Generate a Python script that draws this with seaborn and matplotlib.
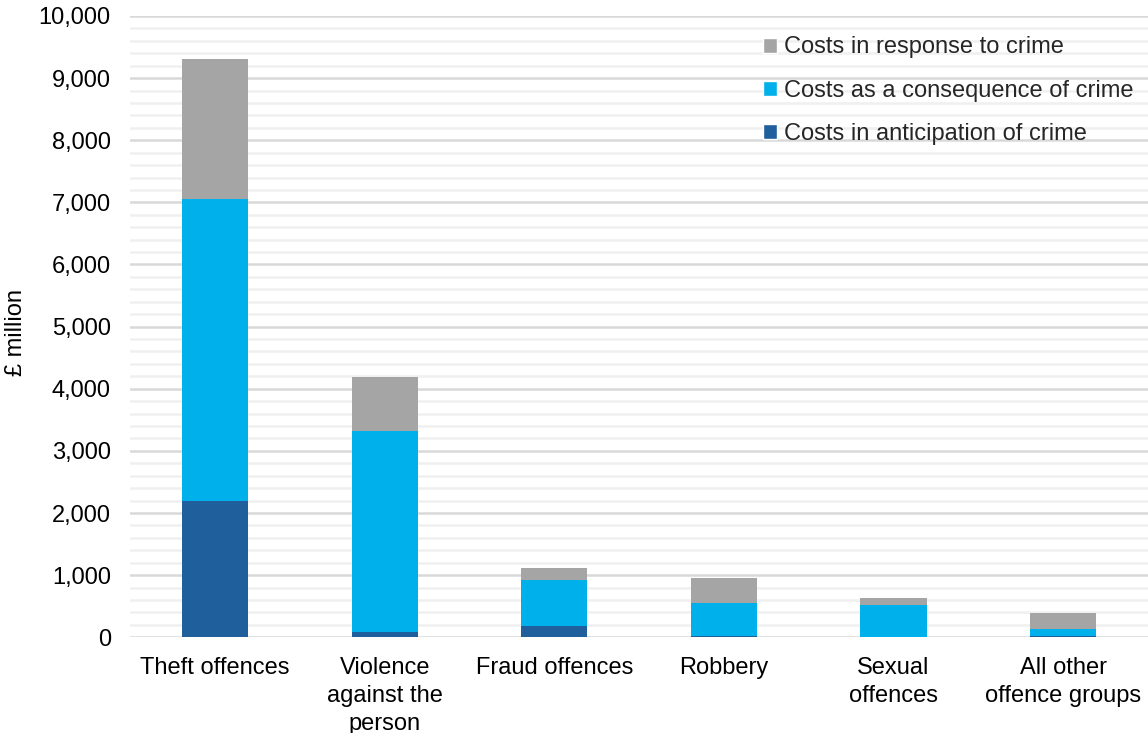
import matplotlib
matplotlib.use("Agg")
import matplotlib.pyplot as plt
import seaborn as sns
import pandas as pd
import numpy as np
from matplotlib.patches import Patch
from matplotlib.ticker import FuncFormatter, MultipleLocator

categories = ["Theft offences", "Violence\nagainst the\nperson", "Fraud offences",
              "Robbery", "Sexual\noffences", "All other\noffence groups"]
anticipation = [2190, 85, 187, 15, 5, 15]
consequence = [4865, 3240, 730, 540, 510, 115]
response = [2255, 870, 198, 400, 118, 257]

series_names = ["Costs in anticipation of crime", "Costs as a consequence of crime",
                "Costs in response to crime"]
colors = ["#1F5F9B", "#00B0EA", "#A5A5A5"]

sns.set_theme(style="white")
plt.rcParams["font.family"] = ["Liberation Sans", "DejaVu Sans"]

df = pd.DataFrame({"category": categories, "a": anticipation,
                   "c": consequence, "r": response})
df["ac"] = df["a"] + df["c"]
df["acr"] = df["ac"] + df["r"]

fig = plt.figure(figsize=(11.48, 7.33), dpi=100)
ax = fig.add_axes([0.1135, 0.1306, 0.8865, 0.8476])

for col, color in zip(["acr", "ac", "a"], [colors[2], colors[1], colors[0]]):
    sns.barplot(data=df, x="category", y=col, color=color, width=0.39,
                saturation=1, ax=ax, zorder=3, linewidth=0)

ax.set_ylim(0, 10000)
ax.set_xlim(-0.5, 5.5)
ax.yaxis.set_major_locator(MultipleLocator(1000))
ax.yaxis.set_minor_locator(MultipleLocator(200))
ax.yaxis.set_major_formatter(FuncFormatter(lambda v, p: f"{int(v):,}"))
ax.grid(which="major", axis="y", color="#D9D9D9", linewidth=1.8, zorder=0)
ax.grid(which="minor", axis="y", color="#F0F0F0", linewidth=1.8, zorder=0)
ax.set_axisbelow(True)
for s in ax.spines.values():
    s.set_visible(False)
ax.tick_params(axis="both", which="both", length=0, labelsize=17, colors="black")
ax.tick_params(axis="y", pad=14)
ax.tick_params(axis="x", pad=14)
for lbl in ax.get_xticklabels():
    lbl.set_linespacing(1.35)
    lbl.set_verticalalignment("top")
ax.set_xlabel("")
ax.set_ylabel("£ million", fontsize=17, color="black", va="center", ha="center")
ax.yaxis.set_label_coords(-0.112, 0.49)

handles = [Patch(facecolor=colors[2], label=series_names[2]),
           Patch(facecolor=colors[1], label=series_names[1]),
           Patch(facecolor=colors[0], label=series_names[0])]
leg = ax.legend(handles=handles, loc="upper right", bbox_to_anchor=(1.0, 0.99),
                frameon=False, fontsize=17, handlelength=0.6, handleheight=0.6,
                handletextpad=0.3, labelspacing=0.9, borderaxespad=0.2)

fig.savefig("out.png", dpi=100)
